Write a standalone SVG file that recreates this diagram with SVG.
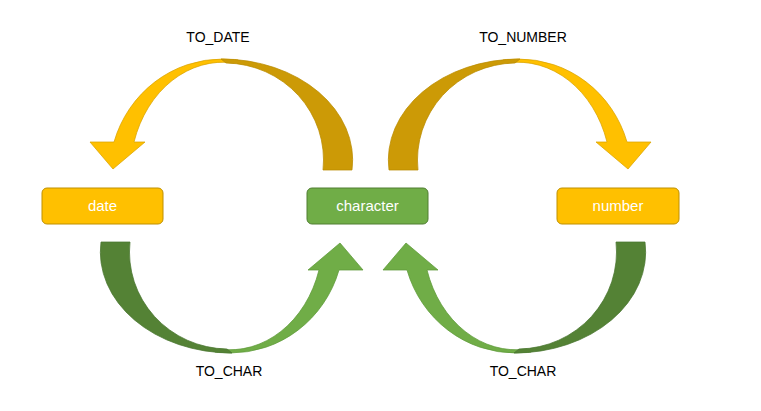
<svg xmlns="http://www.w3.org/2000/svg" xmlns:xlink="http://www.w3.org/1999/xlink" width="761" height="411" viewBox="0 0 761 411">
<style>
.lbl{font-family:"Liberation Sans",Arial,sans-serif;font-size:14px;fill:#000;text-anchor:middle}
.ntx{font-family:"Liberation Sans",Arial,sans-serif;font-size:15px;fill:#fff;text-anchor:middle}
.ybox{fill:#FFC000;stroke:#BF9000;stroke-width:1}
.gbox{fill:#70AD47;stroke:#507E32;stroke-width:1}
.yl{fill:#FFC000;stroke:#D9A300;stroke-width:0.75}
.yd{fill:#CC9A06;stroke:#B98B00;stroke-width:0.75}
.gl{fill:#70AD47;stroke:#5E9A38;stroke-width:0.75}
.gd{fill:#548235;stroke:#4A7530;stroke-width:0.75}
</style>
<defs>
<path id="light" d="M223,59 A113 116 0 0 0 114,142 L90,142 L113,169 L145,142 L134,142 A93 112 0 0 1 234,63 L238,60 Z"/>
<path id="dark" d="M221,59 A131 101 0 0 1 352,170 L323,170 A99 97 0 0 0 226,63 Z"/>
</defs>
<rect width="761" height="411" fill="#fff"/>
<g id="connectors">
<g id="to_date">
<use xlink:href="#light" class="yl"/>
<use xlink:href="#dark" class="yd"/>
</g>
<g id="to_number" transform="matrix(-1 0 0 1 741 0)">
<use xlink:href="#light" class="yl"/>
<use xlink:href="#dark" class="yd"/>
</g>
<g id="to_char_left" transform="matrix(-1 0 0 -1 453 412)">
<use xlink:href="#light" class="gl"/>
<use xlink:href="#dark" class="gd"/>
</g>
<g id="to_char_right" transform="matrix(1 0 0 -1 293 412)">
<use xlink:href="#light" class="gl"/>
<use xlink:href="#dark" class="gd"/>
</g>
<text class="lbl" x="218" y="42">TO_DATE</text>
<text class="lbl" x="523" y="42">TO_NUMBER</text>
<text class="lbl" x="229" y="376">TO_CHAR</text>
<text class="lbl" x="523" y="376">TO_CHAR</text>
</g>
<g id="date">
<rect class="ybox" x="42" y="188" width="121" height="36" rx="5"/>
<text class="ntx" x="102.5" y="211">date</text>
</g>
<g id="character">
<rect class="gbox" x="307" y="188" width="121" height="36" rx="5"/>
<text class="ntx" x="367.5" y="211">character</text>
</g>
<g id="number">
<rect class="ybox" x="557" y="188" width="122" height="36" rx="5"/>
<text class="ntx" x="618" y="211">number</text>
</g>
</svg>
